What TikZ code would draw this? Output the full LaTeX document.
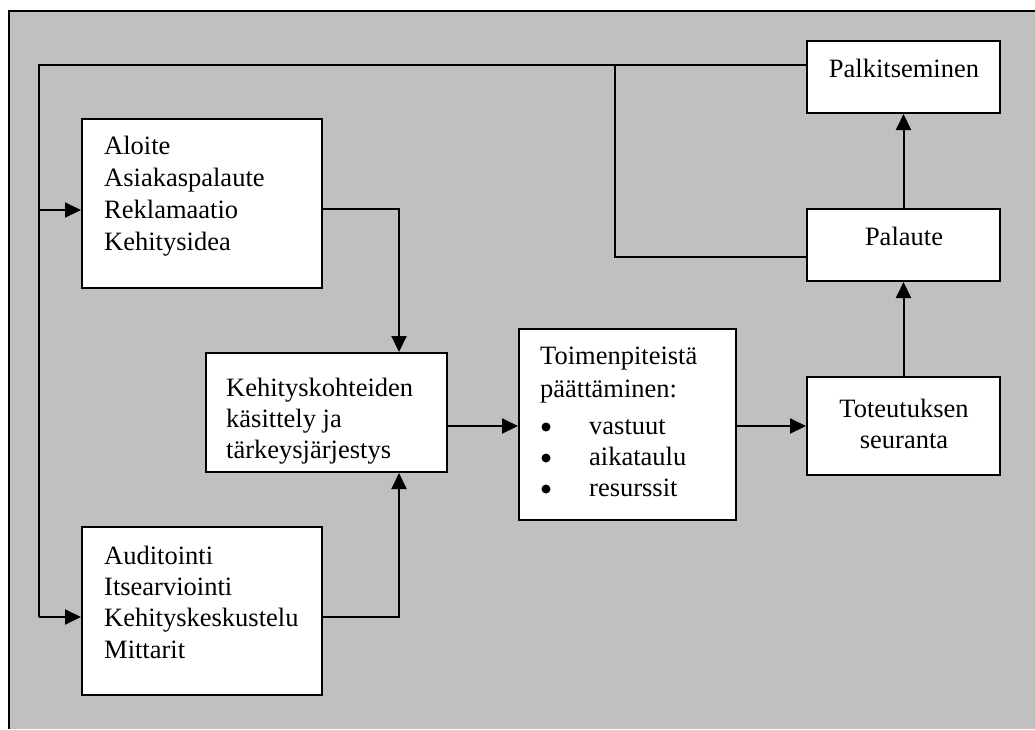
\documentclass[tikz,border=0pt]{standalone}
\usepackage{fontspec}
\setmainfont{Liberation Serif}
\usetikzlibrary{arrows.meta}
\definecolor{panelgray}{HTML}{C0C0C0}
\begin{document}
\begin{tikzpicture}[x=1pt,y=-1pt,
  box/.style={draw=black, line width=2pt, fill=white, inner sep=0pt},
  conn/.style={draw=black, line width=2pt},
  arr/.style={conn, -{Triangle[length=16pt,width=15pt]}},
  txt/.style={inner sep=0pt, font=\fontsize{26.5}{31}\selectfont},
  dot/.style={circle, fill=black, inner sep=0pt, minimum size=9pt},
]
\useasboundingbox (0,0) rectangle (1035,729);
% panel
\fill[white] (0,0) rectangle (1035,729);
\fill[panelgray] (9,11) rectangle (1035,729);
\draw[line width=2pt] (1035,11) -- (9,11) -- (9,729);

% boxes
\node[box, minimum width=240pt, minimum height=169pt] (aloite) at (202,203.5) {};
\node[box, minimum width=241pt, minimum height=119pt] (keh) at (326.5,412.5) {};
\node[box, minimum width=240pt, minimum height=168pt] (audit) at (202,611) {};
\node[box, minimum width=217pt, minimum height=191pt] (toim) at (627.5,424.5) {};
\node[box, minimum width=193pt, minimum height=98pt] (tot) at (903.5,426) {};
\node[box, minimum width=193pt, minimum height=72pt] (pal) at (903.5,245) {};
\node[box, minimum width=193pt, minimum height=72pt] (palk) at (903.5,77) {};

% texts
\node[txt, anchor=base west] (a1) at (104,154) {Aloite};
\node[txt, anchor=base west] (a2) at (104,186) {Asiakaspalaute};
\node[txt, anchor=base west] (a3) at (104,218) {Reklamaatio};
\node[txt, anchor=base west] (a4) at (104,250) {Kehitysidea};

\node[txt, anchor=base west] (k1) at (226,396) {Kehityskohteiden};
\node[txt, anchor=base west] (k2) at (226,427) {käsittely ja};
\node[txt, anchor=base west] (k3) at (226,458) {tärkeysjärjestys};

\node[txt, anchor=base west] (u1) at (104,564) {Auditointi};
\node[txt, anchor=base west] (u2) at (104,595) {Itsearviointi};
\node[txt, anchor=base west] (u3) at (104,626.5) {Kehityskeskustelu};
\node[txt, anchor=base west] (u4) at (104,658) {Mittarit};

\node[txt, anchor=base west] (t1) at (540,364) {Toimenpiteistä};
\node[txt, anchor=base west] (t2) at (540,397) {päättäminen:};
\node[dot] (d1) at (546,427) {};
\node[dot] (d2) at (546,458) {};
\node[dot] (d3) at (546,489) {};
\node[txt, anchor=base west] (t3) at (589,434) {vastuut};
\node[txt, anchor=base west] (t4) at (589,465) {aikataulu};
\node[txt, anchor=base west] (t5) at (589,496) {resurssit};

\node[txt, anchor=base] (s1) at (904,417) {Toteutuksen};
\node[txt, anchor=base] (s2) at (904,448) {seuranta};
\node[txt, anchor=base] (p1) at (904,245) {Palaute};
\node[txt, anchor=base] (r1) at (904,77) {Palkitseminen};

% feedback loop routing points
\coordinate (fbtop) at (39,65);
\coordinate (fbjoin) at (615,65);
\coordinate (fbmid) at (615,257);
\coordinate (fbup) at (39,210);
\coordinate (fbdown) at (39,617);
\coordinate (inA) at (399,209);
\coordinate (inU) at (399,617);

\draw[conn] (palk.west |- fbtop) -- (fbtop) -- (fbdown);
\draw[arr] (fbup) -- (aloite.west |- fbup);
\draw[arr] (fbdown) -- (audit.west |- fbdown);
\draw[conn] (pal.west |- fbmid) -- (fbmid) -- (fbjoin);

\draw[arr] (aloite.east |- inA) -- (inA) -- (keh.north -| inA);
\draw[arr] (audit.east |- inU) -- (inU) -- (keh.south -| inU);

\draw[arr] (keh.east |- 0,426) -- (toim.west |- 0,426);
\draw[arr] (toim.east |- 0,426) -- (tot.west |- 0,426);
\draw[arr] (tot.north) -- (pal.south);
\draw[arr] (pal.north) -- (palk.south);
\end{tikzpicture}
\end{document}
